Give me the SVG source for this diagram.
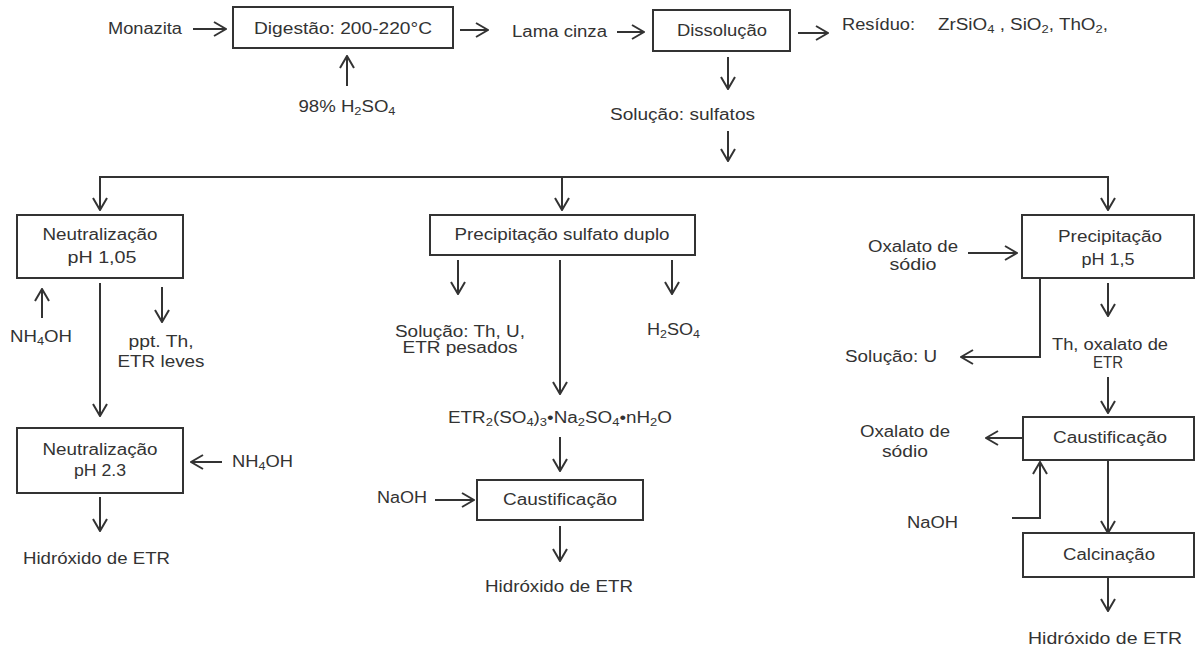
<svg xmlns="http://www.w3.org/2000/svg" width="1200" height="653" viewBox="0 0 1200 653">
  <style>
    .lbl { font-family: "Liberation Sans", Arial, sans-serif; font-size: 16px; fill: #333; }
    .big { font-size: 17px; }
    .mid { text-anchor: middle; }
    .sub { font-size: 11px; }
    .box { fill: #fff; stroke: #333; stroke-width: 2; }
    .ln { fill: none; stroke: #333; stroke-width: 2; }
    .ar { fill: none; stroke: #333; stroke-width: 2; marker-end: url(#ah); }
  </style>
  <defs>
    <marker id="ah" viewBox="0 0 14 16" refX="13" refY="8" markerWidth="14" markerHeight="16" orient="auto" markerUnits="userSpaceOnUse">
      <path d="M1,1 L13,8 L1,15" fill="none" stroke="#333" stroke-width="2"/>
    </marker>
  </defs>
  <rect width="1200" height="653" fill="#fff"/>

  <!-- connectors -->
  <g id="connectors">
    <line class="ar" x1="193" y1="29" x2="226" y2="29"/>
    <line class="ar" x1="347" y1="86" x2="347" y2="56"/>
    <line class="ar" x1="460" y1="30" x2="488" y2="30"/>
    <line class="ar" x1="617" y1="32" x2="644" y2="32"/>
    <line class="ar" x1="798" y1="33" x2="828" y2="33"/>
    <line class="ar" x1="728" y1="57" x2="728" y2="89"/>
    <line class="ar" x1="728" y1="131" x2="728" y2="161"/>
    <!-- distribution bar -->
    <line class="ln" x1="99" y1="177" x2="1109" y2="177"/>
    <line class="ar" x1="100" y1="177" x2="100" y2="210"/>
    <line class="ar" x1="562" y1="177" x2="562" y2="210"/>
    <line class="ar" x1="1108" y1="177" x2="1108" y2="210"/>
    <!-- left branch -->
    <line class="ar" x1="42" y1="318" x2="42" y2="289"/>
    <line class="ar" x1="162" y1="287" x2="162" y2="322"/>
    <line class="ar" x1="100" y1="283" x2="100" y2="416"/>
    <line class="ar" x1="222" y1="462" x2="191" y2="462"/>
    <line class="ar" x1="100" y1="497" x2="100" y2="531"/>
    <!-- middle branch -->
    <line class="ar" x1="458" y1="260" x2="458" y2="294"/>
    <line class="ar" x1="672" y1="260" x2="672" y2="294"/>
    <line class="ar" x1="560" y1="260" x2="560" y2="394"/>
    <line class="ar" x1="560" y1="437" x2="560" y2="471"/>
    <line class="ar" x1="435" y1="500" x2="474" y2="500"/>
    <line class="ar" x1="560" y1="526" x2="560" y2="561"/>
    <!-- right branch -->
    <line class="ar" x1="968" y1="253" x2="1017" y2="253"/>
    <polyline class="ar" points="1040,278 1040,357 961,357"/>
    <line class="ar" x1="1108" y1="283" x2="1108" y2="316"/>
    <line class="ar" x1="1108" y1="377" x2="1108" y2="413"/>
    <line class="ar" x1="1023" y1="438" x2="986" y2="438"/>
    <polyline class="ar" points="1012,518 1040,518 1040,462"/>
    <line class="ar" x1="1108" y1="460" x2="1108" y2="533"/>
    <line class="ar" x1="1108" y1="577" x2="1108" y2="611"/>
  </g>

  <!-- top row -->
  <g id="monazita">
    <text class="lbl" x="108" y="34" textLength="74" lengthAdjust="spacingAndGlyphs">Monazita</text>
  </g>
  <g id="digestao">
    <rect class="box" x="233" y="7" width="220" height="41"/>
    <text class="lbl mid" x="343" y="34" textLength="178" lengthAdjust="spacingAndGlyphs">Digestão: 200-220°C</text>
  </g>
  <g id="acido">
    <text class="lbl mid" x="347" y="112" textLength="97" lengthAdjust="spacingAndGlyphs">98% H<tspan class="sub" dy="3">2</tspan><tspan dy="-3">SO</tspan><tspan class="sub" dy="3">4</tspan></text>
  </g>
  <g id="lama">
    <text class="lbl" x="512" y="37" textLength="95" lengthAdjust="spacingAndGlyphs">Lama cinza</text>
  </g>
  <g id="dissolucao">
    <rect class="box" x="653" y="10" width="137" height="41"/>
    <text class="lbl mid" x="722" y="36" textLength="90" lengthAdjust="spacingAndGlyphs">Dissolução</text>
  </g>
  <g id="residuo">
    <text class="lbl" x="842" y="30" textLength="73" lengthAdjust="spacingAndGlyphs">Resíduo:</text>
    <text class="lbl" x="938" y="30" textLength="170" lengthAdjust="spacingAndGlyphs">ZrSiO<tspan class="sub" dy="3">4</tspan><tspan dy="-3"> , SiO</tspan><tspan class="sub" dy="3">2</tspan><tspan dy="-3">, ThO</tspan><tspan class="sub" dy="3">2</tspan><tspan dy="-3">,</tspan></text>
  </g>
  <g id="sulfatos">
    <text class="lbl" x="610" y="120" textLength="145" lengthAdjust="spacingAndGlyphs">Solução: sulfatos</text>
  </g>

  <!-- left branch -->
  <g id="neutralizacao1">
    <rect class="box" x="17" y="215" width="166" height="63"/>
    <text class="lbl mid" x="100" y="240" textLength="115" lengthAdjust="spacingAndGlyphs">Neutralização</text>
    <text class="lbl mid" x="102" y="263" textLength="69" lengthAdjust="spacingAndGlyphs">pH 1,05</text>
  </g>
  <g id="nh4oh1">
    <text class="lbl" x="10" y="342" textLength="62" lengthAdjust="spacingAndGlyphs">NH<tspan class="sub" dy="3">4</tspan><tspan dy="-3">OH</tspan></text>
  </g>
  <g id="ppt-th">
    <text class="lbl mid" x="161" y="347" textLength="65" lengthAdjust="spacingAndGlyphs">ppt. Th,</text>
    <text class="lbl mid" x="161" y="367" textLength="87" lengthAdjust="spacingAndGlyphs">ETR leves</text>
  </g>
  <g id="neutralizacao2">
    <rect class="box" x="17" y="428" width="166" height="65"/>
    <text class="lbl mid" x="100" y="455" textLength="115" lengthAdjust="spacingAndGlyphs">Neutralização</text>
    <text class="lbl mid" x="100" y="476" textLength="52" lengthAdjust="spacingAndGlyphs">pH 2.3</text>
  </g>
  <g id="nh4oh2">
    <text class="lbl" x="232" y="467" textLength="61" lengthAdjust="spacingAndGlyphs">NH<tspan class="sub" dy="3">4</tspan><tspan dy="-3">OH</tspan></text>
  </g>
  <g id="hidroxido1">
    <text class="lbl big" x="23" y="564" textLength="147" lengthAdjust="spacingAndGlyphs">Hidróxido de ETR</text>
  </g>

  <!-- middle branch -->
  <g id="sulfato-duplo">
    <rect class="box" x="430" y="215" width="265" height="40"/>
    <text class="lbl mid" x="562" y="240" textLength="215" lengthAdjust="spacingAndGlyphs">Precipitação sulfato duplo</text>
  </g>
  <g id="solucao-th-u">
    <text class="lbl mid" x="460" y="337" textLength="130" lengthAdjust="spacingAndGlyphs">Solução: Th, U,</text>
    <text class="lbl mid" x="460" y="353" textLength="115" lengthAdjust="spacingAndGlyphs">ETR pesados</text>
  </g>
  <g id="h2so4">
    <text class="lbl" x="647" y="335" textLength="53" lengthAdjust="spacingAndGlyphs">H<tspan class="sub" dy="3">2</tspan><tspan dy="-3">SO</tspan><tspan class="sub" dy="3">4</tspan></text>
  </g>
  <g id="sal-duplo">
    <text class="lbl" x="448" y="423" textLength="224" lengthAdjust="spacingAndGlyphs">ETR<tspan class="sub" dy="3">2</tspan><tspan dy="-3">(SO</tspan><tspan class="sub" dy="3">4</tspan><tspan dy="-3">)</tspan><tspan class="sub" dy="3">3</tspan><tspan dy="-3">•Na</tspan><tspan class="sub" dy="3">2</tspan><tspan dy="-3">SO</tspan><tspan class="sub" dy="3">4</tspan><tspan dy="-3">•nH</tspan><tspan class="sub" dy="3">2</tspan><tspan dy="-3">O</tspan></text>
  </g>
  <g id="naoh1">
    <text class="lbl" x="377" y="503" textLength="50" lengthAdjust="spacingAndGlyphs">NaOH</text>
  </g>
  <g id="caustificacao1">
    <rect class="box" x="477" y="480" width="166" height="40"/>
    <text class="lbl mid" x="560" y="505" textLength="114" lengthAdjust="spacingAndGlyphs">Caustificação</text>
  </g>
  <g id="hidroxido2">
    <text class="lbl big" x="485" y="592" textLength="148" lengthAdjust="spacingAndGlyphs">Hidróxido de ETR</text>
  </g>

  <!-- right branch -->
  <g id="oxalato1">
    <text class="lbl mid" x="913" y="252" textLength="90" lengthAdjust="spacingAndGlyphs">Oxalato de</text>
    <text class="lbl mid" x="913" y="270" textLength="47" lengthAdjust="spacingAndGlyphs">sódio</text>
  </g>
  <g id="precipitacao">
    <rect class="box" x="1022" y="215" width="172" height="63"/>
    <text class="lbl mid" x="1110" y="242" textLength="104" lengthAdjust="spacingAndGlyphs">Precipitação</text>
    <text class="lbl mid" x="1108" y="265" textLength="53" lengthAdjust="spacingAndGlyphs">pH 1,5</text>
  </g>
  <g id="solucao-u">
    <text class="lbl" x="845" y="362" textLength="92" lengthAdjust="spacingAndGlyphs">Solução: U</text>
  </g>
  <g id="oxalato-etr">
    <text class="lbl mid" x="1110" y="350" textLength="116" lengthAdjust="spacingAndGlyphs">Th, oxalato de</text>
    <text class="lbl mid" x="1108" y="368" textLength="30" lengthAdjust="spacingAndGlyphs">ETR</text>
  </g>
  <g id="oxalato2">
    <text class="lbl mid" x="905" y="437" textLength="90" lengthAdjust="spacingAndGlyphs">Oxalato de</text>
    <text class="lbl mid" x="905" y="457" textLength="46" lengthAdjust="spacingAndGlyphs">sódio</text>
  </g>
  <g id="caustificacao2">
    <rect class="box" x="1023" y="417" width="171" height="43"/>
    <text class="lbl mid" x="1110" y="443" textLength="114" lengthAdjust="spacingAndGlyphs">Caustificação</text>
  </g>
  <g id="naoh2">
    <text class="lbl" x="907" y="528" textLength="51" lengthAdjust="spacingAndGlyphs">NaOH</text>
  </g>
  <g id="calcinacao">
    <rect class="box" x="1023" y="533" width="171" height="44"/>
    <text class="lbl mid" x="1109" y="560" textLength="92" lengthAdjust="spacingAndGlyphs">Calcinação</text>
  </g>
  <g id="hidroxido3">
    <text class="lbl big" x="1028" y="644" textLength="154" lengthAdjust="spacingAndGlyphs">Hidróxido de ETR</text>
  </g>
</svg>
